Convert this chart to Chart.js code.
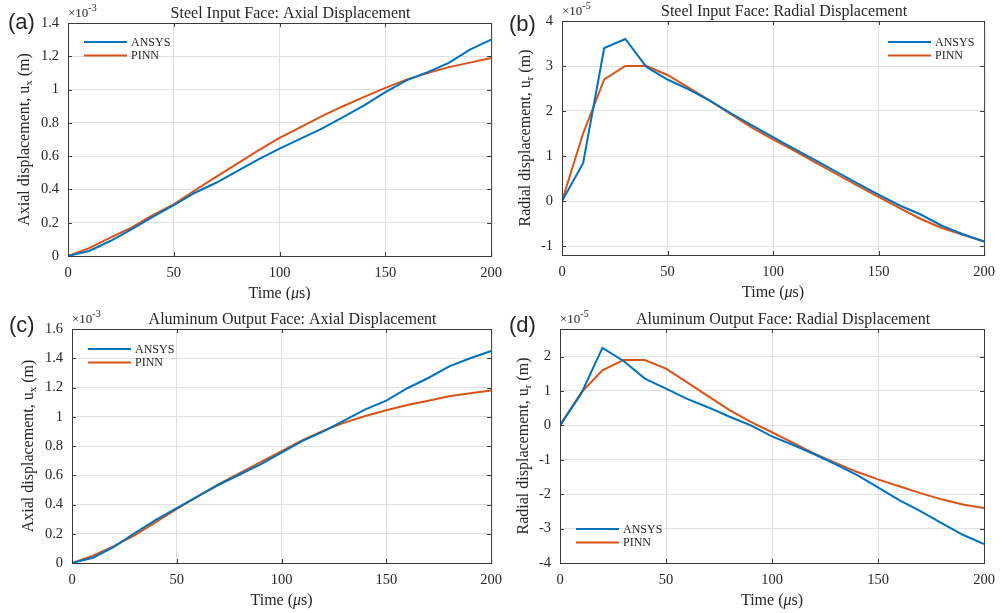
<!DOCTYPE html>
<html>
<head>
<meta charset="utf-8">
<script src="https://cdn.jsdelivr.net/npm/chart.js@4.4.1/dist/chart.umd.min.js"></script>
<style>
  body { margin: 0; background: #fff; }
  #wrap { position: relative; width: 1003px; height: 613px; overflow: hidden; }
  canvas { position: absolute; }
</style>
</head>
<body>
<div id="wrap">
  <canvas id="steelAxial" width="510" height="300" style="left:0;top:0"></canvas>
  <canvas id="steelRadial" width="503" height="300" style="left:500px;top:0"></canvas>
  <canvas id="alAxial" width="510" height="313" style="left:0;top:300px"></canvas>
  <canvas id="alRadial" width="503" height="313" style="left:500px;top:300px"></canvas>
</div>
<script>
// time samples (microseconds)
const timeUs = [0, 10, 20, 30, 40, 50, 60, 70, 80, 90, 100, 110, 120, 130, 140, 150, 160, 170, 180, 190, 200];
const xTicks = [0, 50, 100, 150, 200];

// steel input face, axial (x1e-3 m)
const steelAxialAnsys = [0, 0.03, 0.09, 0.16, 0.235, 0.305, 0.38, 0.44, 0.51, 0.58, 0.645, 0.705, 0.765, 0.835, 0.905, 0.985, 1.055, 1.105, 1.16, 1.24, 1.30];
const steelAxialPinn = [0, 0.047, 0.11, 0.17, 0.245, 0.31, 0.395, 0.475, 0.555, 0.635, 0.71, 0.775, 0.84, 0.9, 0.956, 1.01, 1.06, 1.10, 1.135, 1.162, 1.19];
const steelAxialTicks = [0, 0.2, 0.4, 0.6, 0.8, 1, 1.2, 1.4];

// steel input face, radial (x1e-5 m)
const steelRadialAnsys = [0, 0.84, 3.4, 3.6, 2.98, 2.7, 2.48, 2.23, 1.95, 1.68, 1.42, 1.16, 0.91, 0.65, 0.39, 0.14, -0.1, -0.3, -0.55, -0.74, -0.9];
const steelRadialPinn = [0, 1.5, 2.7, 3.0, 3.0, 2.8, 2.52, 2.23, 1.93, 1.63, 1.37, 1.12, 0.86, 0.6, 0.34, 0.09, -0.16, -0.4, -0.6, -0.75, -0.9];
const steelRadialTicks = [-1, 0, 1, 2, 3, 4];

// aluminum output face, axial (x1e-3 m)
const alAxialAnsys = [0, 0.036, 0.11, 0.205, 0.295, 0.375, 0.455, 0.535, 0.605, 0.675, 0.755, 0.835, 0.9, 0.975, 1.05, 1.11, 1.195, 1.265, 1.345, 1.4, 1.45];
const alAxialPinn = [0, 0.05, 0.115, 0.19, 0.28, 0.37, 0.455, 0.54, 0.615, 0.69, 0.765, 0.84, 0.905, 0.96, 1.005, 1.045, 1.08, 1.11, 1.14, 1.16, 1.18];
const alAxialTicks = [0, 0.2, 0.4, 0.6, 0.8, 1, 1.2, 1.4, 1.6];

// aluminum output face, radial (x1e-5 m)
const alRadialAnsys = [0, 0.92, 2.25, 1.87, 1.36, 1.07, 0.77, 0.52, 0.25, 0.0, -0.32, -0.57, -0.84, -1.13, -1.44, -1.8, -2.17, -2.49, -2.84, -3.18, -3.45];
const alRadialPinn = [0, 0.95, 1.6, 1.9, 1.9, 1.65, 1.25, 0.84, 0.44, 0.1, -0.2, -0.51, -0.82, -1.09, -1.35, -1.57, -1.77, -1.97, -2.15, -2.3, -2.4];
const alRadialTicks = [-4, -3, -2, -1, 0, 1, 2];

const ink = '#262626';
const serif = 'Liberation Serif';
Chart.defaults.font.family = serif;

// draw text pieces with their own fonts, centered on cx
function drawRuns(ctx, runs, cx, y) {
  let total = 0;
  runs.forEach(r => { ctx.font = r.font; r.w = ctx.measureText(r.text).width; total += r.w; });
  let x = cx - total / 2;
  ctx.textAlign = 'left';
  ctx.textBaseline = 'alphabetic';
  runs.forEach(r => { ctx.font = r.font; ctx.fillText(r.text, x, y + (r.dy || 0)); x += r.w; });
}

// boxed axes with inward ticks, titles, exponent and legend
const matlabAxes = {
  id: 'matlabAxes',
  afterDraw(chart, args, o) {
    const { ctx, chartArea: a, scales: { x, y } } = chart;
    ctx.save();
    ctx.strokeStyle = '#3a3a3a';
    ctx.lineWidth = 1;
    ctx.strokeRect(a.left + 0.5, a.top + 0.5, a.right - a.left, a.bottom - a.top);
    ctx.beginPath();
    x.ticks.forEach(t => {
      const px = Math.round(x.getPixelForValue(t.value)) + 0.5;
      ctx.moveTo(px, a.bottom); ctx.lineTo(px, a.bottom - 4);
      ctx.moveTo(px, a.top); ctx.lineTo(px, a.top + 4);
    });
    y.ticks.forEach(t => {
      const py = Math.round(y.getPixelForValue(t.value)) + 0.5;
      ctx.moveTo(a.left, py); ctx.lineTo(a.left + 4, py);
      ctx.moveTo(a.right, py); ctx.lineTo(a.right - 4, py);
    });
    ctx.stroke();

    ctx.fillStyle = ink;
    ctx.font = `16px ${serif}`;
    ctx.textAlign = 'center';
    ctx.textBaseline = 'alphabetic';
    ctx.fillText(o.title, (a.left + a.right) / 2 + 11, a.top - 5.5);

    // scale factor above the y axis
    ctx.textAlign = 'left';
    ctx.font = `13px ${serif}`;
    ctx.fillText('\u00d710', a.left, a.top - 6);
    const w = ctx.measureText('\u00d710').width;
    ctx.font = `10px ${serif}`;
    ctx.fillText(o.exponent, a.left + w, a.top - 12);

    drawRuns(ctx, [
      { text: 'Time (', font: `16px ${serif}` },
      { text: '\u03bc', font: `italic 16px ${serif}` },
      { text: 's)', font: `16px ${serif}` }
    ], (a.left + a.right) / 2, a.bottom + 42);

    ctx.save();
    ctx.translate(a.left - o.yTitleGap, (a.top + a.bottom) / 2);
    ctx.rotate(-Math.PI / 2);
    drawRuns(ctx, [
      { text: o.yTitle + ', u', font: `16px ${serif}` },
      { text: o.ySub, font: `11px ${serif}`, dy: 3 },
      { text: ' (m)', font: `16px ${serif}` }
    ], 0, 0);
    ctx.restore();

    ctx.font = '22px Liberation Sans';
    ctx.textAlign = 'left';
    ctx.fillText(o.tag, o.tagX, o.tagY);

    chart.data.datasets.forEach((ds, i) => {
      const lx = a.left + o.legendX;
      const ly = a.top + o.legendY + i * 13.5;
      ctx.strokeStyle = ds.borderColor;
      ctx.lineWidth = 2;
      ctx.beginPath(); ctx.moveTo(lx, ly); ctx.lineTo(lx + 43, ly); ctx.stroke();
      ctx.font = `12px ${serif}`;
      ctx.fillStyle = ink;
      ctx.textBaseline = 'middle';
      ctx.fillText(ds.label, lx + 47, ly + 0.5);
    });
    ctx.restore();
  }
};

// plain numbers: 1 rather than 1.0
const plainTick = v => String(Math.round(v * 10) / 10);

function makePanel(id, p) {
  const canvas = document.getElementById(id);
  const W = canvas.width, H = canvas.height;
  const pts = vals => timeUs.map((t, i) => ({ x: t, y: vals[i] }));
  const gridStyle = { color: '#e0e0e0', lineWidth: 1, drawTicks: false };
  return new Chart(canvas, {
    type: 'line',
    data: {
      datasets: [
        { label: 'ANSYS', data: pts(p.ansys), borderColor: '#0072BD', borderWidth: 2, pointRadius: 0, tension: 0 },
        { label: 'PINN', data: pts(p.pinn), borderColor: '#D95319', borderWidth: 2, pointRadius: 0, tension: 0 }
      ]
    },
    options: {
      responsive: false,
      animation: false,
      devicePixelRatio: 1,
      layout: { padding: { left: 0, top: p.box.top, right: W - p.box.right, bottom: 0 } },
      plugins: {
        legend: { display: false },
        tooltip: { enabled: false },
        matlabAxes: p.axes
      },
      scales: {
        x: {
          type: 'linear', min: 0, max: 200,
          afterBuildTicks: s => { s.ticks = xTicks.map(v => ({ value: v })); },
          afterFit: s => { s.height = H - p.box.bottom; },
          grid: gridStyle,
          border: { display: false },
          ticks: { color: ink, font: { size: 14.5 }, padding: 8, maxRotation: 0, callback: plainTick }
        },
        y: {
          type: 'linear', min: p.yMin, max: p.yMax,
          afterBuildTicks: s => { s.ticks = p.yTicks.map(v => ({ value: v })); },
          afterFit: s => { s.width = p.box.left; },
          grid: gridStyle,
          border: { display: false },
          ticks: { color: ink, font: { size: 14.5 }, padding: 9, callback: plainTick }
        }
      }
    },
    plugins: [matlabAxes]
  });
}

makePanel('steelAxial', {
  ansys: steelAxialAnsys, pinn: steelAxialPinn, yTicks: steelAxialTicks, yMin: 0, yMax: 1.4,
  box: { left: 68, top: 23, right: 493, bottom: 256 },
  axes: { title: 'Steel Input Face: Axial Displacement', exponent: '-3', yTitle: 'Axial displacement', ySub: 'x',
    yTitleGap: 38.7, tag: '(a)', tagX: 8, tagY: 29, legendX: 16, legendY: 19 }
});

makePanel('steelRadial', {
  ansys: steelRadialAnsys, pinn: steelRadialPinn, yTicks: steelRadialTicks, yMin: -1.2, yMax: 4,
  box: { left: 62, top: 21, right: 487, bottom: 255 },
  axes: { title: 'Steel Input Face: Radial Displacement', exponent: '-5', yTitle: 'Radial displacement', ySub: 'r',
    yTitleGap: 32, tag: '(b)', tagX: 9, tagY: 31, legendX: 326, legendY: 21 }
});

makePanel('alAxial', {
  ansys: alAxialAnsys, pinn: alAxialPinn, yTicks: alAxialTicks, yMin: 0, yMax: 1.6,
  box: { left: 72, top: 29, right: 498, bottom: 263 },
  axes: { title: 'Aluminum Output Face: Axial Displacement', exponent: '-3', yTitle: 'Axial displacement', ySub: 'x',
    yTitleGap: 38.7, tag: '(c)', tagX: 9, tagY: 31.5, legendX: 16, legendY: 20 }
});

makePanel('alRadial', {
  ansys: alRadialAnsys, pinn: alRadialPinn, yTicks: alRadialTicks, yMin: -4, yMax: 2.8,
  box: { left: 60, top: 29, right: 484, bottom: 263 },
  axes: { title: 'Aluminum Output Face: Radial Displacement', exponent: '-5', yTitle: 'Radial displacement', ySub: 'r',
    yTitleGap: 32.5, tag: '(d)', tagX: 9, tagY: 32, legendX: 16, legendY: 200 }
});
</script>
</body>
</html>
